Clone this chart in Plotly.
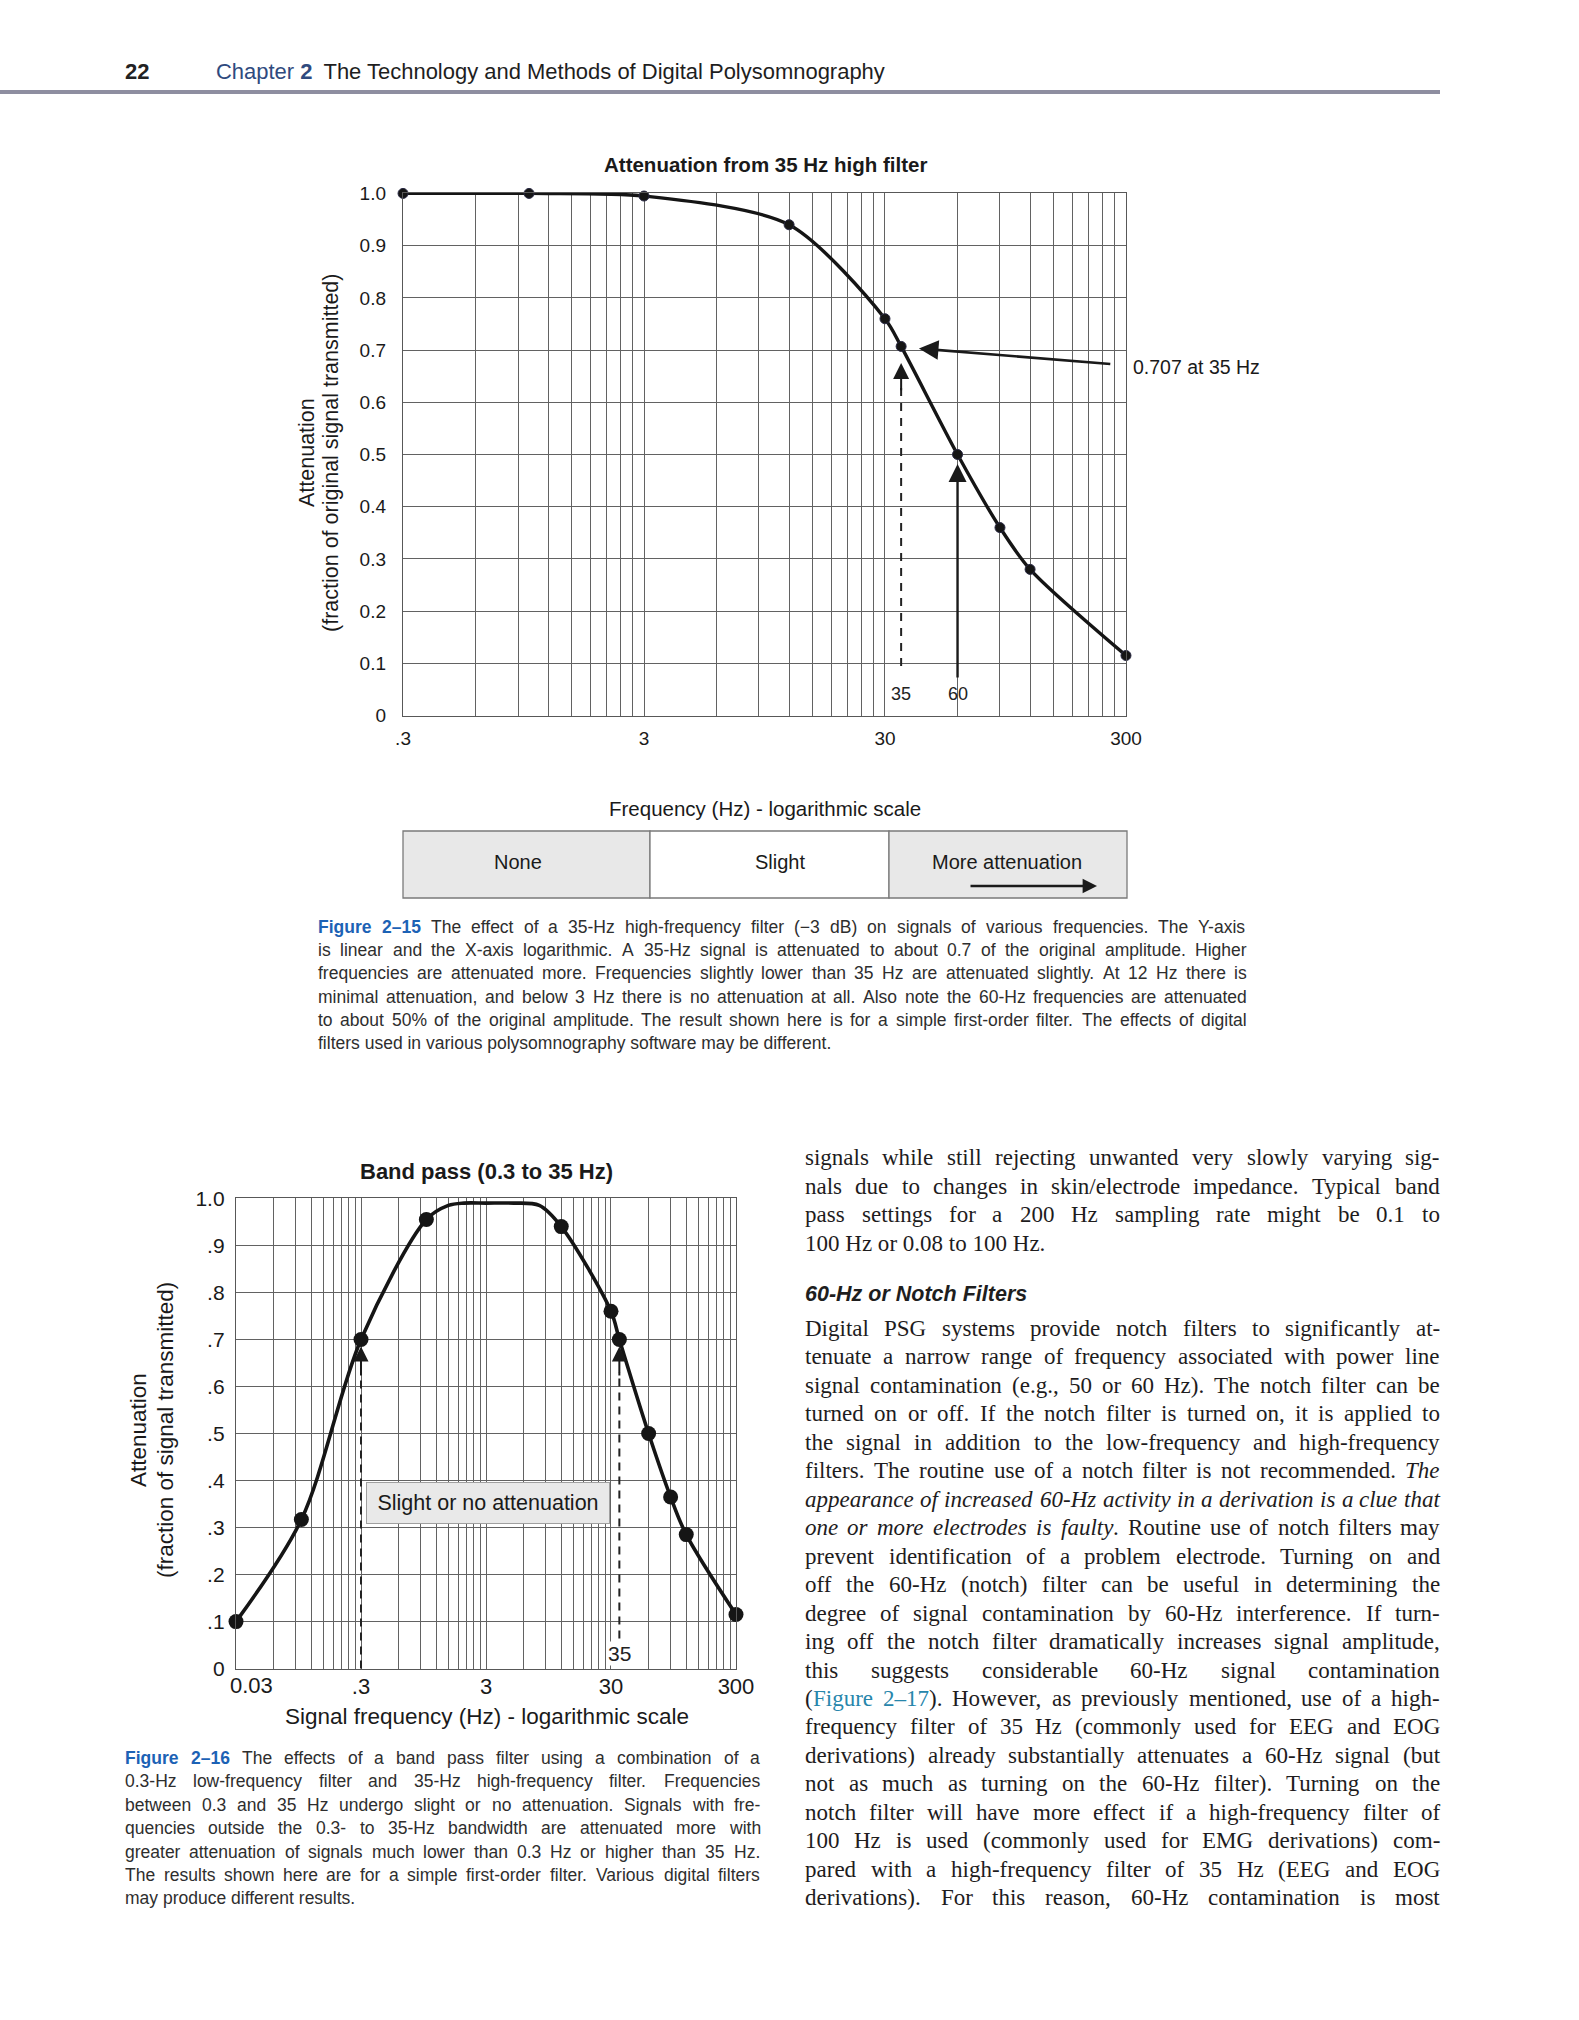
import math
import string
import subprocess
import plotly.graph_objects as go

W, H = 1579, 2020

# ---------------- data ----------------
hf_freq = [0.3, 1, 3, 12, 30, 35, 60, 90, 120, 300]
hf_att = [1.0, 1.0, 0.995, 0.94, 0.76, 0.707, 0.50, 0.36, 0.28, 0.115]

bp_curve_freq = [0.03, 0.1, 0.3, 1, 1.5, 2, 3, 5, 8, 12, 30, 35, 60, 90, 120, 300]
bp_curve_att = [0.10, 0.317, 0.70, 0.955, 0.985, 0.99, 0.99, 0.99, 0.985, 0.94, 0.76, 0.70, 0.50, 0.365, 0.285, 0.115]
bp_dot_freq = [0.03, 0.1, 0.3, 1, 12, 30, 35, 60, 90, 120, 300]
bp_dot_att = [0.10, 0.317, 0.70, 0.955, 0.94, 0.76, 0.70, 0.50, 0.365, 0.285, 0.115]

att_ticks = [i / 10 for i in range(11)]
hf_att_labels = ['0'] + ['%.1f' % v for v in att_ticks[1:]]
bp_att_labels = ['0'] + ['.%d' % i for i in range(1, 10)] + ['1.0']
hf_freq_labels = {0.3: '.3', 3: '3', 30: '30', 300: '300'}
bp_freq_labels = {0.3: '.3', 3: '3', 30: '30', 300: '300'}
bp_first_freq, bp_first_label = 0.03, '0.03'
band_labels = ['None', 'Slight', 'More attenuation']

HF_CUT = 35
LF_CUT = 0.3
F60 = 60
ARROW_0707_HEAD = (41.5, 0.703)
ARROW_0707_TAIL = (262, 0.673)

header_title = 'The Technology and Methods of Digital Polysomnography'

caption1 = [
    "{Figure 2–15} The effect of a 35-Hz high-frequency filter (−3 dB) on signals of various frequencies. The Y-axis",
    "is linear and the X-axis logarithmic. A 35-Hz signal is attenuated to about 0.7 of the original amplitude. Higher",
    "frequencies are attenuated more. Frequencies slightly lower than 35 Hz are attenuated slightly. At 12 Hz there is",
    "minimal attenuation, and below 3 Hz there is no attenuation at all. Also note the 60-Hz frequencies are attenuated",
    "to about 50% of the original amplitude. The result shown here is for a simple first-order filter. The effects of digital",
    "filters used in various polysomnography software may be different.",
]
caption2 = [
    "{Figure 2–16} The effects of a band pass filter using a combination of a",
    "0.3-Hz low-frequency filter and 35-Hz high-frequency filter. Frequencies",
    "between 0.3 and 35 Hz undergo slight or no attenuation. Signals with fre-",
    "quencies outside the 0.3- to 35-Hz bandwidth are attenuated more with",
    "greater attenuation of signals much lower than 0.3 Hz or higher than 35 Hz.",
    "The results shown here are for a simple first-order filter. Various digital filters",
    "may produce different results.",
]
para1 = [
    "signals while still rejecting unwanted very slowly varying sig-",
    "nals due to changes in skin/electrode impedance. Typical band",
    "pass settings for a 200 Hz sampling rate might be 0.1 to",
    "100 Hz or 0.08 to 100 Hz.",
]
heading = "60-Hz or Notch Filters"
para2 = [
    "Digital PSG systems provide notch filters to significantly at-",
    "tenuate a narrow range of frequency associated with power line",
    "signal contamination (e.g., 50 or 60 Hz). The notch filter can be",
    "turned on or off. If the notch filter is turned on, it is applied to",
    "the signal in addition to the low-frequency and high-frequency",
    "filters. The routine use of a notch filter is not recommended. *The*",
    "*appearance of increased 60-Hz activity in a derivation is a clue that*",
    "*one or more electrodes is faulty*. Routine use of notch filters may",
    "prevent identification of a problem electrode. Turning on and",
    "off the 60-Hz (notch) filter can be useful in determining the",
    "degree of signal contamination by 60-Hz interference. If turn-",
    "ing off the notch filter dramatically increases signal amplitude,",
    "this suggests considerable 60-Hz signal contamination",
    "([Figure 2–17]). However, as previously mentioned, use of a high-",
    "frequency filter of 35 Hz (commonly used for EEG and EOG",
    "derivations) already substantially attenuates a 60-Hz signal (but",
    "not as much as turning on the 60-Hz filter). Turning on the",
    "notch filter will have more effect if a high-frequency filter of",
    "100 Hz is used (commonly used for EMG derivations) com-",
    "pared with a high-frequency filter of 35 Hz (EEG and EOG",
    "derivations). For this reason, 60-Hz contamination is most",
]

# ---------------- fonts & metrics ----------------
try:
    _fl = subprocess.run(['fc-list', ':', 'family'], capture_output=True, text=True, timeout=10).stdout
except Exception:
    _fl = ''
NARROW = 'Liberation Sans Narrow' in _fl
CAP_FAMILY = 'Liberation Sans Narrow' if NARROW else 'Liberation Sans'
CAP_SCALE = 0.82 if NARROW else 1.0
SANS = 'Liberation Sans, Arial, sans-serif'
SERIF = 'Liberation Serif, Times New Roman, serif'


def table(up, lo, digit, extra, scale=1.0):
    t = dict(zip(string.ascii_uppercase, up))
    t.update(zip(string.ascii_lowercase, lo))
    t.update({d: digit for d in string.digits})
    t.update(extra)
    return {k: v * scale for k, v in t.items()}


TIMES = table([722, 667, 667, 722, 611, 556, 722, 722, 333, 389, 722, 611, 889, 722, 722, 556, 722, 667, 556, 611, 722, 722, 944, 722, 722, 611],
              [444, 500, 444, 500, 444, 333, 500, 500, 278, 278, 500, 278, 778, 500, 500, 500, 500, 333, 389, 278, 500, 500, 722, 500, 500, 444],
              500, {' ': 250, '!': 333, '(': 333, ')': 333, ',': 250, '-': 333, '.': 250, '/': 278, ':': 278, ';': 278, '%': 833, '–': 500, '−': 564, "'": 333})
TIMESI = table([611, 611, 667, 722, 611, 611, 722, 722, 333, 444, 667, 556, 833, 667, 722, 611, 722, 611, 500, 556, 722, 611, 833, 611, 556, 556],
               [500, 500, 444, 500, 444, 278, 500, 500, 278, 278, 444, 278, 722, 500, 500, 500, 500, 389, 389, 278, 500, 444, 667, 444, 444, 389],
               500, {' ': 250, ',': 250, '-': 333, '.': 250, '–': 500})
HELV_UP = [667, 667, 722, 722, 667, 611, 778, 722, 278, 500, 667, 556, 833, 722, 778, 667, 778, 722, 667, 611, 722, 667, 944, 667, 667, 611]
HELV_LO = [556, 556, 500, 556, 556, 278, 556, 556, 222, 222, 500, 222, 833, 556, 556, 556, 556, 333, 500, 278, 556, 500, 722, 500, 500, 500]
HELV_EX = {' ': 278, '!': 278, '(': 333, ')': 333, ',': 278, '-': 333, '.': 278, '/': 278, ':': 278, ';': 278, '%': 889, '–': 556, '−': 584}
HELVB_UP = [722, 722, 722, 722, 667, 611, 778, 722, 278, 556, 722, 611, 833, 722, 778, 667, 778, 722, 667, 611, 722, 667, 944, 667, 667, 611]
HELVB_LO = [556, 611, 556, 611, 556, 333, 611, 611, 278, 278, 556, 278, 889, 611, 611, 611, 611, 389, 556, 333, 611, 556, 778, 556, 556, 500]
HELVB_EX = {' ': 278, '(': 333, ')': 333, ',': 278, '-': 333, '.': 278, '–': 556}
CAPN = table(HELV_UP, HELV_LO, 556, HELV_EX, CAP_SCALE)
CAPB = table(HELVB_UP, HELVB_LO, 556, HELVB_EX, CAP_SCALE)


def tw(text, tab, size):
    return sum(tab.get(c, 550) for c in text) * size / 1000.0


def px(x):
    return x / W


def py(y):
    return 1 - y / H


BODY_COLOR = '#1e1c1d'
CAP_COLOR = '#2e2e2e'
FIG_BLUE = '#1c62b5'
LINK = '#2786ab'
HEAD_BLUE = '#2f4a7e'

BODY_STYLES = {
    'n': (TIMES, '{}', BODY_COLOR, SERIF),
    'i': (TIMESI, '<i>{}</i>', BODY_COLOR, SERIF),
    'l': (TIMES, '{}', LINK, SERIF),
}
CAP_STYLES = {
    'n': (CAPN, '{}', CAP_COLOR, CAP_FAMILY),
    'b': (CAPB, '<b>{}</b>', FIG_BLUE, CAP_FAMILY),
}

annotations = []
shapes = []


def add_text(x, y, text, size, family, color, anchor='left', **kw):
    d = dict(x=px(x), y=py(y), xref='paper', yref='paper', text=text, showarrow=False,
             xanchor=anchor, yanchor='middle', font=dict(size=size, family=family, color=color),
             borderpad=0, borderwidth=0)
    d.update(kw)
    annotations.append(d)


def parse(line):
    segs, style, buf = [], 'n', ''
    for ch in line:
        if ch == '*':
            segs.append((buf, style)); buf = ''
            style = 'n' if style == 'i' else 'i'
        elif ch in '[{':
            segs.append((buf, style)); buf = ''
            style = 'l' if ch == '[' else 'b'
        elif ch in ']}':
            segs.append((buf, style)); buf = ''
            style = 'n'
        else:
            buf += ch
    segs.append((buf, style))
    words = [[]]
    for text, st in segs:
        parts = text.split(' ')
        for k, p in enumerate(parts):
            if k > 0:
                words.append([])
            if p:
                words[-1].append((p, st))
    return [w for w in words if w]


def word_w(word, styles, size):
    return sum(tw(t, styles[s][0], size) for t, s in word)


def piece_html(t, s, styles):
    tab, fmt, color, fam = styles[s]
    h = fmt.format(t)
    if color != styles['n'][2]:
        h = '<span style="color:%s">%s</span>' % (color, h)
    return h


def fit_size(blocks, width, styles, cap):
    space = styles['n'][0][' ']
    best = cap
    for lines, last_just in blocks:
        for i, line in enumerate(lines):
            if i == len(lines) - 1 and not last_just:
                continue
            words = parse(line)
            nat = sum(word_w(w, styles, 1) for w in words) + space / 1000.0 * (len(words) - 1)
            best = min(best, 0.99 * width / nat)
    return best


def render(lines, x0, width, y0, lh, styles, size, last_just=False):
    for i, line in enumerate(lines):
        words = parse(line)
        y = y0 + i * lh
        just = (i < len(lines) - 1) or last_just
        if not just:
            html = ' '.join(''.join(piece_html(t, s, styles) for t, s in w) for w in words)
            add_text(x0, y, html, size, styles['n'][3], styles['n'][2])
            continue
        ww = [word_w(w, styles, size) for w in words]
        gap = (width - sum(ww)) / (len(words) - 1)
        x = x0
        for w, wid in zip(words, ww):
            xx = x
            for t, s in w:
                tab, fmt, color, fam = styles[s]
                add_text(xx, y, fmt.format(t), size, fam, color)
                xx += tw(t, tab, size)
            x += wid + gap


# ---------------- page header ----------------
add_text(125, 71, '<b>22</b>', 22, CAP_FAMILY, '#222222')
head_nat = tw('Chapter 2  ' + header_title, CAPN, 1)
head_size = min(24, 673 / head_nat)
add_text(216, 71, '<span style="color:%s">Chapter <b>2</b></span>\u2002%s' % (HEAD_BLUE, header_title),
         head_size, CAP_FAMILY, '#1e1e1e')
shapes.append(dict(type='line', xref='paper', yref='paper', x0=0, x1=px(1440), y0=py(92), y1=py(92),
                   line=dict(color='#8e8ea0', width=4)))

# ---------------- geometry ----------------
L1, R1, T1, B1 = 403, 1126, 193, 716
L2, R2, T2, B2 = 236, 736, 1198, 1669


def log_grid(start, decades):
    vals = []
    for d in range(decades):
        vals += [start * 10 ** d * m for m in range(1, 10)]
    vals.append(start * 10 ** decades)
    return vals


def labels_for(vals, labmap):
    out = []
    for v in vals:
        lab = ''
        for k, t in labmap.items():
            if abs(v / k - 1) < 1e-6:
                lab = t
        out.append(lab)
    return out


GRID = '#626262'
grid1 = log_grid(0.3, 3)
grid2 = log_grid(0.03, 4)

fig = go.Figure()

# chart 1 curve
fig.add_trace(go.Scatter(x=hf_freq, y=hf_att, mode='lines+markers', xaxis='x', yaxis='y',
                         line=dict(color='#151515', width=3.4, shape='spline', smoothing=0.8),
                         marker=dict(size=10, color='#151515', line=dict(color='#2a2a44', width=1)),
                         cliponaxis=False, hoverinfo='skip'))
# dashed 35 Hz guide in chart 1
fig.add_trace(go.Scatter(x=[HF_CUT, HF_CUT], y=[0.095, 0.64], mode='lines', xaxis='x', yaxis='y',
                         line=dict(color='#222222', width=2, dash='8px,7px'), hoverinfo='skip'))

# chart 2 curve and dots
fig.add_trace(go.Scatter(x=bp_curve_freq, y=bp_curve_att, mode='lines', xaxis='x2', yaxis='y2',
                         line=dict(color='#151515', width=3.6, shape='spline', smoothing=0.9),
                         cliponaxis=False, hoverinfo='skip'))
fig.add_trace(go.Scatter(x=bp_dot_freq, y=bp_dot_att, mode='markers', xaxis='x2', yaxis='y2',
                         marker=dict(size=15, color='#151515'), cliponaxis=False, hoverinfo='skip'))
fig.add_trace(go.Scatter(x=[LF_CUT, LF_CUT], y=[0.0, 0.63], mode='lines', xaxis='x2', yaxis='y2',
                         line=dict(color='#222222', width=2, dash='8px,6px'), hoverinfo='skip'))
fig.add_trace(go.Scatter(x=[HF_CUT, HF_CUT], y=[0.064, 0.63], mode='lines', xaxis='x2', yaxis='y2',
                         line=dict(color='#222222', width=2, dash='8px,6px'), hoverinfo='skip'))


def arrow(xr, yr, xv, yv, axv, ayv, width=2.0, size=1.3, head=2):
    annotations.append(dict(x=math.log10(xv), y=yv, ax=math.log10(axv), ay=ayv, xref=xr, yref=yr,
                            axref=xr, ayref=yr, showarrow=True, arrowhead=head, arrowsize=size,
                            arrowwidth=width, arrowcolor='#1a1a1a', text='', standoff=0, startstandoff=0))


# chart 1 arrows
arrow('x', 'y', HF_CUT, 0.675, HF_CUT, 0.62, width=2, size=1.6)
arrow('x', 'y', F60, 0.482, F60, 0.07, width=2.4, size=1.5)
arrow('x', 'y', ARROW_0707_HEAD[0], ARROW_0707_HEAD[1], ARROW_0707_TAIL[0], ARROW_0707_TAIL[1], width=2.6, size=1.5)
# chart 2 arrows
arrow('x2', 'y2', LF_CUT, 0.685, LF_CUT, 0.62, width=2, size=1.5)
arrow('x2', 'y2', HF_CUT, 0.685, HF_CUT, 0.62, width=2, size=1.5)

# chart 1 text labels
annotations.append(dict(x=math.log10(HF_CUT), y=0.042, xref='x', yref='y', text='35', showarrow=False,
                        font=dict(size=18, family=SANS, color='#222')))
annotations.append(dict(x=math.log10(F60), y=0.042, xref='x', yref='y', text='60', showarrow=False,
                        font=dict(size=18, family=SANS, color='#222')))
add_text(1133, 367, '0.707 at 35 Hz', 19.5, SANS, '#1a1a1a')
add_text(765, 165, '<b>Attenuation from 35 Hz high filter</b>', 20.5, SANS, '#1a1a1a', anchor='center')
add_text(765, 808, 'Frequency (Hz) - logarithmic scale', 20.5, SANS, '#1a1a1a', anchor='center')
add_text(307, 453, 'Attenuation', 21.5, SANS, '#1a1a1a', anchor='center', textangle=-90)
add_text(331, 453, '(fraction of original signal transmitted)', 21.5, SANS, '#1a1a1a', anchor='center', textangle=-90)

# band table under chart 1
cells = [403, 650, 889, 1127]
fills = ['#e8e8e8', '#ffffff', '#e8e8e8']
for i in range(3):
    shapes.append(dict(type='rect', xref='paper', yref='paper', x0=px(cells[i]), x1=px(cells[i + 1]),
                       y0=py(898), y1=py(831), fillcolor=fills[i], line=dict(color='#7a7a7a', width=1.3),
                       layer='below'))
band_text_x = [518, 780, 1007]
for lab, bx in zip(band_labels, band_text_x):
    add_text(bx, 862, lab, 20, SANS, '#1a1a1a', anchor='center')
annotations.append(dict(x=px(1097), y=py(886), xref='paper', yref='paper', ax=-128, ay=0, text='',
                        showarrow=True, arrowhead=2, arrowsize=1.2, arrowwidth=2.4, arrowcolor='#1a1a1a'))

# chart 2 text labels
add_text(487, 1171, '<b>Band pass (0.3 to 35 Hz)</b>', 22, SANS, '#1a1a1a', anchor='center')
add_text(487, 1716, 'Signal frequency (Hz) - logarithmic scale', 22.5, SANS, '#1a1a1a', anchor='center')
add_text(138, 1430, 'Attenuation', 22.5, SANS, '#1a1a1a', anchor='center', textangle=-90)
add_text(165, 1430, '(fraction of signal transmitted)', 22.5, SANS, '#1a1a1a', anchor='center', textangle=-90)
annotations.append(dict(x=math.log10(LF_CUT), y=0.352, xref='x2', yref='y2', xanchor='left', yanchor='middle',
                        xshift=5, text='Slight or no attenuation', showarrow=False, width=242, height=40,
                        bgcolor='#e9e9e9', bordercolor='#a0a0a0', borderwidth=1, borderpad=0,
                        font=dict(size=21.5, family=SANS, color='#1a1a1a')))
annotations.append(dict(x=math.log10(HF_CUT), y=0.032, xref='x2', yref='y2', text='35', showarrow=False,
                        bgcolor='#ffffff', borderpad=0, font=dict(size=21, family=SANS, color='#222')))
# first x label of chart 2, set slightly right of its gridline as in the reference
annotations.append(dict(x=math.log10(bp_first_freq), y=py(1685), xref='x2', yref='paper', xshift=15,
                        text=bp_first_label, showarrow=False, xanchor='center', yanchor='middle',
                        borderpad=0, font=dict(size=22, family=SANS, color='#1a1a1a')))

# ---------------- captions & body text ----------------
c1_size = fit_size([(caption1, False)], 929, CAP_STYLES, 19.5 if NARROW else 17.5)
render(caption1, 318, 929, 927, 23.2, CAP_STYLES, c1_size)
c2_size = fit_size([(caption2, False)], 635, CAP_STYLES, 19.5 if NARROW else 17.5)
render(caption2, 125, 635, 1758, 23.4, CAP_STYLES, c2_size)

body_size = fit_size([(para1, False), (para2, True)], 635, BODY_STYLES, 24)
render(para1, 805, 635, 1157, 28.7, BODY_STYLES, body_size)
add_text(805, 1294, '<b><i>' + heading + '</i></b>', 21.5, SANS, '#1e1e1e')
render(para2, 805, 635, 1328, 28.46, BODY_STYLES, body_size, last_just=True)

# ---------------- axes ----------------
eps = 1e-4
common = dict(showgrid=True, gridcolor=GRID, gridwidth=1, showline=True, linecolor='#585858', linewidth=1.2,
              mirror=True, zeroline=False, ticks='outside', tickcolor='rgba(0,0,0,0)', fixedrange=True,
              tickmode='array', automargin=False)
fig.update_layout(
    width=W, height=H, autosize=False,
    margin=dict(l=0, r=0, t=0, b=0, pad=0, autoexpand=False),
    paper_bgcolor='white', plot_bgcolor='white',
    showlegend=False,
    xaxis=dict(common, type='log', domain=[px(L1), px(R1)], anchor='y',
               range=[math.log10(0.3) - eps, math.log10(300) + eps],
               tickvals=grid1, ticktext=labels_for(grid1, hf_freq_labels), ticklen=5,
               tickfont=dict(size=19, family=SANS, color='#1a1a1a')),
    yaxis=dict(common, domain=[py(B1), py(T1)], anchor='x', range=[-0.0008, 1.0008],
               tickvals=att_ticks, ticktext=hf_att_labels, ticklen=12,
               tickfont=dict(size=19, family=SANS, color='#1a1a1a')),
    xaxis2=dict(common, type='log', domain=[px(L2), px(R2)], anchor='y2',
                range=[math.log10(0.03) - eps, math.log10(300) + eps],
                tickvals=grid2, ticktext=labels_for(grid2, bp_freq_labels), ticklen=0,
                ticklabelstandoff=-3,
                tickfont=dict(size=22, family=SANS, color='#1a1a1a')),
    yaxis2=dict(common, domain=[py(B2), py(T2)], anchor='x2', range=[-0.0008, 1.0008],
                tickvals=att_ticks, ticktext=bp_att_labels, ticklen=6,
                tickfont=dict(size=21, family=SANS, color='#1a1a1a')),
    annotations=annotations,
    shapes=shapes,
)

fig.write_html("out.html", config={'displayModeBar': False, 'staticPlot': True, 'responsive': False},
               post_script="document.body.style.margin='0';document.body.style.overflow='hidden';")
